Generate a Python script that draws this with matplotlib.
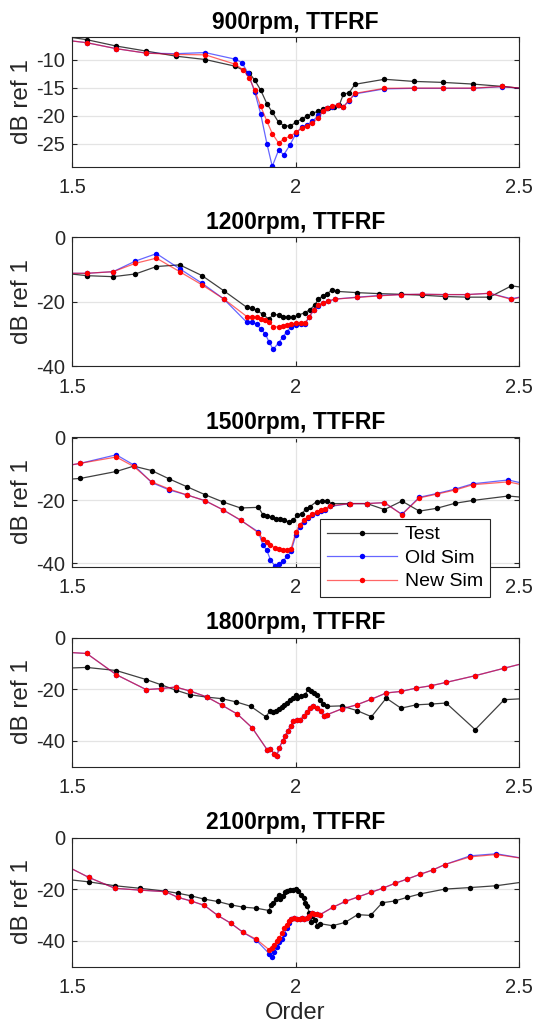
import matplotlib
matplotlib.use("Agg")
import matplotlib.pyplot as plt

plt.rcParams["font.family"] = ["Liberation Sans", "DejaVu Sans"]
plt.rcParams["axes.unicode_minus"] = False

# ---------------- data: order vs. dB ref 1 ----------------
titles = ["900rpm, TTFRF", "1200rpm, TTFRF", "1500rpm, TTFRF",
          "1800rpm, TTFRF", "2100rpm, TTFRF"]
series_names = ["Test", "Old Sim", "New Sim"]
x_ticks = [1.5, 2, 2.5]
x_tick_labels = ["1.5", "2", "2.5"]

# 900 rpm
test900_x = [1.466, 1.533, 1.599, 1.666, 1.732, 1.798, 1.865, 1.897, 1.909, 1.922,
             1.936, 1.948, 1.962, 1.974, 1.988, 2.001, 2.014, 2.026, 2.038, 2.051,
             2.062, 2.073, 2.086, 2.098, 2.107, 2.120, 2.133, 2.199, 2.264, 2.330,
             2.397, 2.463, 2.53]
test900_y = [-5.6, -6.39, -7.53, -8.43, -9.34, -9.94, -11.14, -12.40, -13.66, -15.40,
             -17.86, -19.36, -21.16, -21.76, -21.88, -21.16, -20.56, -20.08, -19.60, -19.18,
             -18.88, -18.58, -18.40, -18.10, -16.18, -15.88, -14.38, -13.48, -13.86, -14.04,
             -14.34, -14.76, -15.3]
old900_x = [1.466, 1.533, 1.599, 1.666, 1.732, 1.798, 1.865, 1.880, 1.894, 1.909,
            1.922, 1.936, 1.948, 1.962, 1.974, 1.988, 2.001, 2.014, 2.026, 2.038,
            2.051, 2.062, 2.070, 2.081, 2.094, 2.107, 2.120, 2.133, 2.199, 2.264,
            2.330, 2.397, 2.463, 2.53]
old900_y = [-6.3, -6.93, -8.0, -8.8, -8.9, -8.7, -9.88, -10.48, -12.4, -15.8,
            -19.66, -25.0, -29.08, -26.2, -26.98, -25.18, -23.2, -22.06, -21.58, -20.98,
            -19.96, -19.18, -18.7, -18.4, -18.1, -18.4, -17.3, -16.1, -15.2, -15.1,
            -15.1, -15.1, -14.8, -15.3]
new900_x = [1.466, 1.533, 1.599, 1.666, 1.732, 1.798, 1.865, 1.883, 1.897, 1.909,
            1.922, 1.936, 1.948, 1.962, 1.974, 1.988, 2.001, 2.014, 2.026, 2.038,
            2.051, 2.062, 2.070, 2.081, 2.094, 2.107, 2.120, 2.133, 2.199, 2.264,
            2.330, 2.397, 2.463, 2.53]
new900_y = [-6.3, -6.93, -8.0, -8.8, -9.04, -9.1, -10.78, -11.8, -13.3, -15.46,
            -18.28, -20.98, -23.2, -24.88, -24.16, -23.68, -22.96, -22.18, -21.76, -21.28,
            -20.38, -19.2, -18.6, -18.3, -18.1, -18.46, -17.2, -16.0, -15.1, -15.06,
            -15.06, -15.06, -14.76, -15.3]

# 1200 rpm
test1200_x = [1.483, 1.533, 1.592, 1.642, 1.689, 1.741, 1.791, 1.839, 1.891, 1.902,
              1.913, 1.927, 1.941, 1.950, 1.962, 1.973, 1.984, 1.995, 2.006, 2.021,
              2.032, 2.044, 2.051, 2.061, 2.070, 2.081, 2.092, 2.138, 2.187, 2.235,
              2.284, 2.334, 2.384, 2.434, 2.483, 2.533]
test1200_y = [-11.1, -11.83, -12.15, -11.3, -9.0, -8.48, -11.83, -16.45, -21.65, -21.9,
              -22.6, -23.8, -25.4, -23.7, -24.1, -24.5, -24.8, -24.7, -24.1, -23.3,
              -22.4, -20.8, -19.1, -18.2, -17.4, -16.4, -16.7, -17.1, -17.4, -17.6,
              -17.9, -18.3, -18.5, -18.5, -15.0, -15.9]
sim1200_x = [1.483, 1.533, 1.592, 1.642, 1.689, 1.741, 1.791, 1.839, 1.891, 1.902,
             1.913, 1.923, 1.932, 1.941, 1.950, 1.962, 1.971, 1.980, 1.990, 2.001,
             2.012, 2.021, 2.031, 2.041, 2.051, 2.062, 2.073, 2.088, 2.138, 2.187,
             2.235, 2.284, 2.334, 2.384, 2.434, 2.483, 2.533]
old1200_y = [-11.1, -11.1, -10.6, -7.3, -5.0, -9.7, -14.2, -19.0, -26.3, -26.1,
             -26.9, -28.5, -29.8, -32.4, -34.7, -32.7, -31.0, -29.3, -27.7, -27.0,
             -26.9, -26.9, -24.5, -22.6, -21.2, -20.3, -19.8, -19.1, -18.5, -18.0,
             -17.7, -17.6, -17.7, -17.7, -17.3, -19.0, -17.6]
new1200_y = [-11.1, -11.1, -10.6, -8.0, -6.4, -10.6, -14.7, -19.0, -24.5, -24.5,
             -24.8, -25.3, -25.6, -26.1, -27.7, -27.7, -27.4, -27.1, -26.8, -26.6,
             -26.4, -26.6, -24.5, -22.4, -21.0, -20.2, -19.7, -19.1, -18.6, -18.1,
             -17.7, -17.6, -17.7, -17.7, -17.3, -19.2, -17.6]

# 1500 rpm
test1500_x = [1.479, 1.519, 1.599, 1.638, 1.678, 1.718, 1.758, 1.798, 1.838, 1.877,
              1.917, 1.927, 1.937, 1.947, 1.956, 1.965, 1.975, 1.985, 1.995, 2.004,
              2.014, 2.023, 2.032, 2.047, 2.059, 2.070, 2.081, 2.120, 2.160, 2.199,
              2.238, 2.277, 2.316, 2.357, 2.397, 2.476, 2.516]
test1500_y = [-13.4, -13.0, -10.8, -9.1, -10.5, -13.2, -15.7, -18.2, -20.5, -22.4,
              -22.2, -24.5, -25.0, -25.3, -25.8, -26.0, -26.3, -26.8, -26.3, -24.7,
              -24.2, -22.8, -22.0, -20.4, -20.1, -20.2, -21.0, -21.0, -21.0, -22.9,
              -20.2, -23.4, -22.5, -20.9, -20.0, -18.6, -19.1]
sim1500_x = [1.479, 1.519, 1.599, 1.638, 1.678, 1.718, 1.758, 1.798, 1.838, 1.877,
             1.917, 1.927, 1.936, 1.944, 1.954, 1.964, 1.973, 1.982, 1.990, 2.001,
             2.010, 2.019, 2.029, 2.038, 2.047, 2.056, 2.066, 2.077, 2.122, 2.160,
             2.199, 2.238, 2.277, 2.316, 2.357, 2.397, 2.476, 2.516]
old1500_y = [-9.2, -8.2, -5.5, -8.7, -14.3, -16.7, -18.3, -20.1, -23.0, -26.3,
             -30.0, -34.1, -35.9, -38.9, -40.9, -40.2, -39.1, -37.7, -36.2, -30.9,
             -28.4, -27.0, -25.6, -24.7, -23.9, -23.4, -23.0, -21.9, -21.0, -21.0,
             -20.7, -24.4, -19.0, -17.8, -16.4, -14.7, -13.5, -14.8]
new1500_y = [-9.2, -8.2, -6.2, -9.2, -14.1, -16.4, -18.3, -20.1, -23.0, -26.2,
             -30.3, -32.2, -33.2, -34.3, -35.0, -35.4, -35.6, -35.7, -35.4, -30.0,
             -27.7, -26.3, -25.2, -24.4, -23.6, -23.1, -22.8, -21.7, -21.0, -21.0,
             -20.7, -24.5, -19.2, -18.0, -16.7, -15.0, -14.1, -15.3]

# 1800 rpm
test1800_x = [1.467, 1.533, 1.599, 1.666, 1.699, 1.732, 1.765, 1.801, 1.835, 1.868,
              1.900, 1.934, 1.943, 1.950, 1.956, 1.963, 1.969, 1.975, 1.982, 1.988,
              1.994, 2.001, 2.004, 2.012, 2.021, 2.029, 2.035, 2.041, 2.047, 2.055,
              2.062, 2.070, 2.103, 2.137, 2.170, 2.203, 2.236, 2.270, 2.303, 2.337,
              2.402, 2.467, 2.533]
test1800_y = [-12.0, -11.6, -12.8, -16.3, -18.3, -20.4, -22.2, -23.1, -23.7, -25.0,
              -26.7, -30.8, -28.3, -29.0, -28.5, -27.6, -27.0, -26.1, -25.2, -24.4,
              -23.6, -22.3, -23.5, -22.8, -22.2, -20.0, -20.9, -21.5, -22.2, -24.1,
              -25.7, -26.7, -26.5, -28.3, -30.7, -23.5, -27.4, -26.1, -25.8, -25.4,
              -35.7, -24.1, -23.5]
sim1800_x = [1.467, 1.533, 1.599, 1.666, 1.699, 1.732, 1.765, 1.801, 1.835, 1.870,
             1.903, 1.937, 1.944, 1.952, 1.958, 1.964, 1.971, 1.977, 1.983, 1.989,
             1.995, 2.003, 2.010, 2.018, 2.025, 2.032, 2.040, 2.047, 2.056, 2.064,
             2.071, 2.103, 2.137, 2.170, 2.203, 2.236, 2.270, 2.303, 2.337, 2.402,
             2.467, 2.533]
old1800_y = [-5.5, -6.2, -14.4, -20.2, -19.8, -19.2, -20.8, -23.0, -26.2, -29.7,
             -35.0, -43.6, -43.2, -45.0, -45.8, -42.8, -40.0, -38.1, -36.1, -34.2,
             -32.5, -32.1, -31.9, -30.6, -29.0, -27.4, -26.7, -27.4, -28.6, -30.3,
             -29.9, -27.7, -26.1, -23.9, -21.5, -20.9, -19.6, -18.7, -17.4, -14.8,
             -11.9, -9.0]
new1800_y = [-5.5, -6.2, -14.4, -20.2, -19.8, -19.2, -20.8, -23.0, -26.2, -29.7,
             -35.0, -43.6, -43.2, -45.0, -45.8, -42.8, -40.0, -38.1, -36.1, -34.2,
             -32.5, -32.1, -31.9, -30.6, -29.0, -27.4, -26.7, -27.4, -28.6, -30.3,
             -29.9, -27.7, -26.1, -23.9, -21.5, -20.9, -19.6, -18.7, -17.4, -14.8,
             -11.9, -9.0]

# 2100 rpm
test2100_x = [1.481, 1.538, 1.596, 1.653, 1.709, 1.737, 1.766, 1.796, 1.826, 1.855,
              1.883, 1.912, 1.941, 1.945, 1.950, 1.956, 1.962, 1.965, 1.971, 1.977,
              1.982, 1.988, 1.994, 2.001, 2.006, 2.012, 2.018, 2.021, 2.026, 2.031,
              2.034, 2.038, 2.044, 2.049, 2.055, 2.083, 2.111, 2.139, 2.168, 2.194,
              2.222, 2.250, 2.278, 2.334, 2.391, 2.449, 2.52]
test2100_y = [-16.1, -17.2, -18.7, -19.7, -20.8, -21.6, -22.6, -23.9, -24.8, -26.1,
              -27.0, -27.4, -28.3, -26.1, -25.2, -23.9, -22.2, -23.9, -22.6, -21.3,
              -20.9, -20.5, -20.5, -20.0, -20.9, -22.2, -23.5, -25.4, -26.5, -29.3,
              -32.9, -30.6, -31.9, -34.2, -33.4, -34.2, -32.9, -29.9, -30.2, -25.3,
              -24.6, -23.2, -21.9, -20.0, -19.4, -18.7, -17.0]
sim2100_x = [1.481, 1.538, 1.596, 1.653, 1.709, 1.737, 1.766, 1.796, 1.826, 1.855,
             1.883, 1.912, 1.941, 1.947, 1.953, 1.958, 1.964, 1.969, 1.975, 1.980,
             1.986, 1.991, 1.997, 2.003, 2.009, 2.014, 2.020, 2.025, 2.031, 2.036,
             2.041, 2.047, 2.055, 2.083, 2.111, 2.139, 2.168, 2.196, 2.222, 2.250,
             2.278, 2.307, 2.334, 2.391, 2.449, 2.52]
old2100_y = [-10.5, -15.5, -19.7, -20.4, -21.0, -23.2, -24.6, -26.3, -30.2, -33.2,
             -36.8, -39.8, -45.0, -46.3, -44.5, -42.6, -40.6, -39.5, -37.5, -35.0,
             -33.2, -31.6, -31.2, -31.6, -31.5, -31.2, -31.5, -31.1, -30.6, -29.3,
             -29.5, -29.7, -29.9, -27.1, -24.8, -23.1, -21.3, -19.6, -17.8, -16.1,
             -14.3, -12.6, -10.5, -7.1, -6.3, -8.4]
new2100_y = [-10.5, -15.5, -19.7, -20.4, -21.0, -23.2, -24.6, -26.3, -30.2, -33.2,
             -36.8, -39.4, -43.5, -42.8, -41.5, -40.3, -39.0, -37.0, -35.1, -33.8,
             -32.5, -31.6, -31.2, -31.6, -31.5, -31.2, -31.5, -31.1, -30.6, -29.3,
             -29.5, -29.7, -29.9, -27.1, -24.8, -23.1, -21.3, -19.6, -17.8, -16.1,
             -14.3, -12.6, -10.5, -7.5, -6.6, -8.4]

panels = [
    (test900_x, test900_y, old900_x, old900_y, new900_x, new900_y),
    (test1200_x, test1200_y, sim1200_x, old1200_y, sim1200_x, new1200_y),
    (test1500_x, test1500_y, sim1500_x, old1500_y, sim1500_x, new1500_y),
    (test1800_x, test1800_y, sim1800_x, old1800_y, sim1800_x, new1800_y),
    (test2100_x, test2100_y, sim2100_x, old2100_y, sim2100_x, new2100_y),
]
y_limits = [(-29.1, -6.0), (-40, 0), (-41, 0), (-50, 0), (-50, 0)]
y_ticks = [[-25, -20, -15, -10], [-40, -20, 0], [-40, -20, 0],
           [-40, -20, 0], [-40, -20, 0]]

# ---------------- styling ----------------
W, H = 536, 1026
AX_LEFT, AX_WIDTH = 72, 447
AX_TOP0, AX_HEIGHT, PITCH = 37.5, 129, 200
TXT = "#262626"
line_styles = [
    dict(color=(0, 0, 0, 0.75), mfc="k", mec="k"),
    dict(color=(0, 0, 1, 0.6), mfc="b", mec="b"),
    dict(color=(1, 0, 0, 0.6), mfc="r", mec="r"),
]

fig = plt.figure(figsize=(W / 100, H / 100), dpi=100)

axes = []
for i in range(5):
    top = AX_TOP0 + PITCH * i
    ax = fig.add_axes([AX_LEFT / W, 1 - (top + AX_HEIGHT) / H,
                       AX_WIDTH / W, AX_HEIGHT / H])
    axes.append(ax)
    tx, ty, ox, oy, nx, ny = panels[i]
    handles = []
    for (xs, ys), st, name in zip([(tx, ty), (ox, oy), (nx, ny)], line_styles,
                                   series_names):
        h, = ax.plot(xs, ys, lw=0.9, marker="o", ms=3.9, mew=0, label=name, **st)
        handles.append(h)

    ax.set_xlim(1.5, 2.5)
    ax.set_ylim(*y_limits[i])
    ax.set_xticks(x_ticks)
    ax.set_xticklabels(x_tick_labels)
    ax.set_yticks(y_ticks[i])
    ax.set_yticklabels([str(v) for v in y_ticks[i]])
    ax.grid(True, color="#e4e4e4", lw=0.9)
    ax.set_axisbelow(True)
    for sp in ax.spines.values():
        sp.set_color(TXT)
        sp.set_linewidth(0.8)
    ax.tick_params(direction="in", top=True, right=True, length=3.5, width=0.8,
                   color=TXT, labelcolor=TXT, labelsize=14.5)
    ax.tick_params(axis="x", pad=8)
    ax.tick_params(axis="y", pad=5)
    ax.set_title(titles[i], fontsize=16.5, fontweight="bold", pad=6)
    ax.set_ylabel("dB ref 1", fontsize=17.5, color=TXT, labelpad=2)

    if i == 2:
        leg = ax.legend(handles=handles, loc="upper left",
                        bbox_to_anchor=(320 / W, 1 - 519 / H),
                        bbox_transform=fig.transFigure,
                        fontsize=14, frameon=True, fancybox=False,
                        framealpha=1, edgecolor=TXT, handlelength=3.6,
                        handletextpad=0.4, labelspacing=0.3, borderpad=0.35,
                        borderaxespad=0)
        leg.get_frame().set_linewidth(0.8)
        leg.set_zorder(10)

axes[-1].set_xlabel("Order", fontsize=17, color=TXT, labelpad=4)

fig.savefig("out.png", dpi=100, facecolor="white")
